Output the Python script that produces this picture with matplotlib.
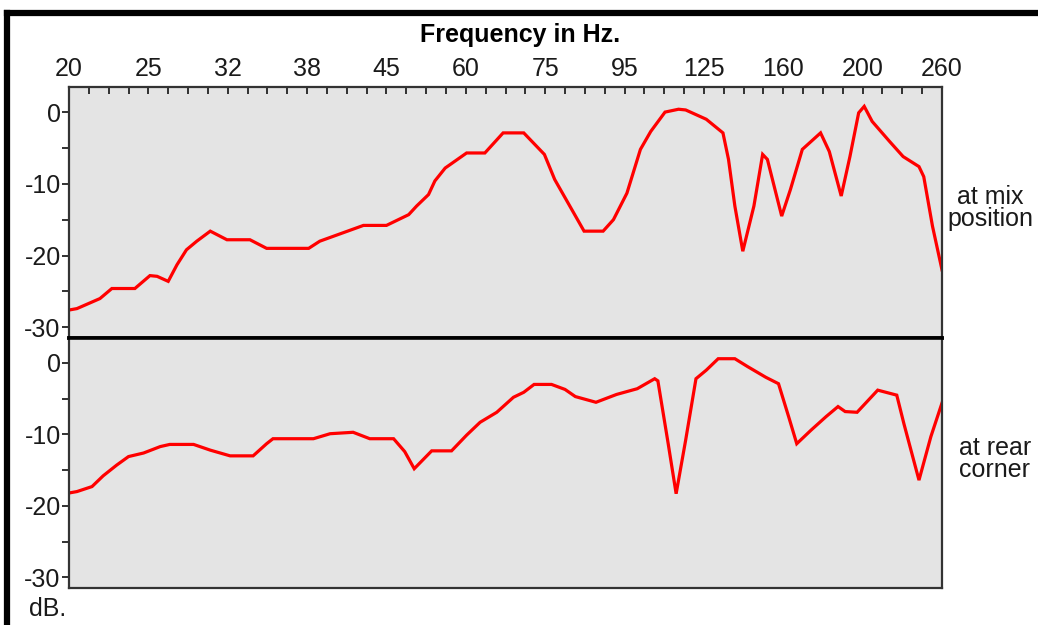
import matplotlib
matplotlib.use("Agg")
import matplotlib.pyplot as plt
from matplotlib.lines import Line2D
from matplotlib.ticker import MultipleLocator

plt.rcParams["font.family"] = ["Liberation Sans", "DejaVu Sans"]
plt.rcParams["axes.unicode_minus"] = False

# band labels on the top axis (one per band position 0..11)
freq_labels = ["20", "25", "32", "38", "45", "60", "75", "95", "125", "160", "200", "260"]

# response at the mix position (x in band units, y in dB)
mix_pos = [0.00, 0.10, 0.39, 0.54, 0.83, 1.02, 1.11, 1.25, 1.36, 1.48, 1.61, 1.78,
           1.99, 2.28, 2.49, 3.02, 3.16, 3.71, 4.00, 4.28, 4.38, 4.53, 4.61, 4.74,
           5.01, 5.24, 5.47, 5.73, 5.99, 6.12, 6.30, 6.49, 6.73, 6.86, 7.03, 7.20,
           7.33, 7.51, 7.68, 7.77, 8.03, 8.24, 8.31, 8.39, 8.49, 8.63, 8.74, 8.80,
           8.98, 9.09, 9.24, 9.47, 9.58, 9.73, 9.84, 9.95, 10.02, 10.12, 10.34,
           10.51, 10.71, 10.77, 10.88, 11.00]
mix_db = [-27.6, -27.4, -26.0, -24.6, -24.6, -22.8, -22.9, -23.6, -21.3, -19.2, -18.0, -16.6,
          -17.8, -17.8, -19.0, -19.0, -18.0, -15.8, -15.8, -14.3, -13.1, -11.5, -9.6, -7.8,
          -5.7, -5.7, -2.9, -2.9, -5.9, -9.4, -12.9, -16.6, -16.6, -15.0, -11.3, -5.2,
          -2.7, 0.0, 0.4, 0.3, -1.0, -2.9, -6.6, -13.1, -19.4, -13.1, -5.9, -6.6,
          -14.5, -10.8, -5.2, -2.9, -5.5, -11.7, -6.2, -0.1, 0.8, -1.3, -4.1,
          -6.2, -7.6, -9.0, -15.9, -22.0]

# response at the rear corner
rear_pos = [0.00, 0.10, 0.29, 0.43, 0.60, 0.75, 0.94, 1.15, 1.27, 1.57, 1.78, 2.03,
            2.32, 2.49, 2.57, 3.08, 3.29, 3.58, 3.79, 4.09, 4.23, 4.35, 4.57, 4.82,
            5.01, 5.18, 5.39, 5.60, 5.73, 5.86, 6.08, 6.25, 6.38, 6.64, 6.90, 7.16,
            7.38, 7.42, 7.55, 7.65, 7.77, 7.90, 8.03, 8.18, 8.39, 8.55, 8.78, 8.94,
            9.07, 9.17, 9.35, 9.54, 9.69, 9.78, 9.93, 10.19, 10.43, 10.52, 10.71,
            10.86, 11.00]
rear_db = [-18.2, -18.0, -17.3, -15.8, -14.3, -13.1, -12.6, -11.7, -11.4, -11.4, -12.2, -13.0,
           -13.0, -11.3, -10.6, -10.6, -9.9, -9.7, -10.6, -10.6, -12.4, -14.8, -12.3, -12.3,
           -10.1, -8.3, -6.9, -4.8, -4.1, -3.0, -3.0, -3.7, -4.7, -5.5, -4.4, -3.6,
           -2.2, -2.5, -11.3, -18.3, -10.8, -2.2, -1.0, 0.6, 0.6, -0.5, -2.0, -2.9,
           -7.6, -11.3, -9.4, -7.5, -6.1, -6.8, -6.9, -3.8, -4.5, -8.5, -16.4,
           -10.3, -5.6]

W, H = 1038, 625
fig = plt.figure(figsize=(W / 100, H / 100), dpi=100)
fig.patch.set_facecolor("white")

left, right = 69 / W, 942 / W
ax1 = fig.add_axes([left, 1 - 338 / H, right - left, (338 - 87) / H])
ax2 = fig.add_axes([left, 1 - 588 / H, right - left, (588 - 338) / H])

txt_color = "#1a1a1a"
for ax, xs, ys in ((ax1, mix_pos, mix_db), (ax2, rear_pos, rear_db)):
    ax.set_facecolor("#e4e4e4")
    ax.plot(xs, ys, color="#ff0000", lw=2.3, solid_joinstyle="miter")
    ax.set_xlim(0, 11)
    ax.set_ylim(-31.5, 3.5)
    ax.yaxis.set_major_locator(MultipleLocator(10))
    ax.yaxis.set_minor_locator(MultipleLocator(5))
    ax.tick_params(axis="y", which="both", direction="out", length=5, width=1.3,
                   color="#222222", labelsize=18, labelcolor=txt_color, pad=1)
    for s in ax.spines.values():
        s.set_color("#333333")
        s.set_linewidth(1.6)

# top frequency axis
ax1.xaxis.tick_top()
ax1.set_xticks(range(len(freq_labels)))
ax1.set_xticklabels(freq_labels)
ax1.xaxis.set_minor_locator(MultipleLocator(0.25))
ax1.tick_params(axis="x", which="both", direction="in", length=5, width=1.3,
                color="#222222", labelsize=18, labelcolor=txt_color, pad=4)
ax1.spines["bottom"].set_color("black")
ax1.spines["bottom"].set_linewidth(2.6)

ax2.set_xticks([])
ax2.spines["top"].set_color("black")
ax2.spines["top"].set_linewidth(2.6)

fig.text(520 / W, 1 - 35 / H, "Frequency in Hz.", ha="center", va="center",
         fontsize=18, fontweight="bold", color="black")
fig.text(990 / W, 1 - 208 / H, "at mix\nposition", ha="center", va="center",
         fontsize=18, color=txt_color, linespacing=0.85)
fig.text(995 / W, 1 - 459 / H, "at rear\ncorner", ha="center", va="center",
         fontsize=18, color=txt_color, linespacing=0.85)
fig.text(48 / W, 1 - 609 / H, "dB.", ha="center", va="center",
         fontsize=18, color=txt_color)

# thick outer frame (top and left)
fig.add_artist(Line2D([7 / W, 1], [1 - 13 / H, 1 - 13 / H], color="black", lw=4.5,
                      transform=fig.transFigure, solid_capstyle="projecting"))
fig.add_artist(Line2D([7 / W, 7 / W], [1 - 13 / H, 0], color="black", lw=4.5,
                      transform=fig.transFigure, solid_capstyle="projecting"))

fig.savefig("out.png", dpi=100)
